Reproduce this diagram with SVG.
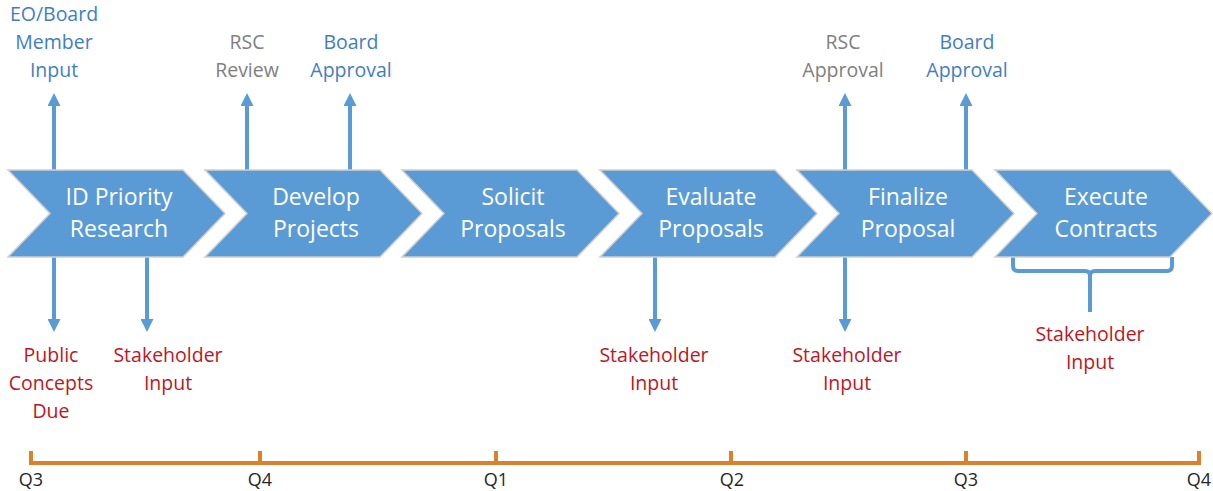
<svg xmlns="http://www.w3.org/2000/svg" width="1213" height="491" viewBox="0 0 1213 491">
<defs>
<style>
.chev{fill:#5B9BD5;stroke:#CFCFCF;stroke-width:1.5}
.ct{font-family:"Open Sans",sans-serif;font-size:23px;fill:#FFFFFF;text-anchor:middle}
.lb{font-family:"Open Sans",sans-serif;font-size:19.5px;text-anchor:middle}
.blue{fill:#3F7EC3}
.gray{fill:#808080}
.red{fill:#C0151F}
.arr{stroke:#5B9BD5;stroke-width:4;fill:none;marker-end:url(#ah)}
.brk{stroke:#5B9BD5;stroke-width:4;fill:none;stroke-linejoin:round}
.tl{stroke:#D9822B;stroke-width:4;fill:none}
.q{font-family:"Open Sans",sans-serif;font-size:18px;fill:#262626;text-anchor:middle}
</style>
<marker id="ah" markerUnits="userSpaceOnUse" markerWidth="13" markerHeight="13" refX="2" refY="6.5" orient="auto">
<path d="M0,0 L13,6.5 L0,13 Z" fill="#5B9BD5"/>
</marker>
<path id="chev" d="M0,0 H175 L217,43.5 L175,87 H0 L42,43.5 Z"/>
</defs>
<rect width="1213" height="491" fill="#FFFFFF"/>

<g id="connectors">
<line class="arr" x1="54" y1="170" x2="54" y2="104"/>
<line class="arr" x1="247" y1="170" x2="247" y2="104"/>
<line class="arr" x1="350" y1="170" x2="350" y2="104"/>
<line class="arr" x1="845" y1="170" x2="845" y2="104"/>
<line class="arr" x1="966" y1="170" x2="966" y2="104"/>
<line class="arr" x1="54" y1="257" x2="54" y2="321"/>
<line class="arr" x1="147" y1="257" x2="147" y2="321"/>
<line class="arr" x1="655" y1="257" x2="655" y2="321"/>
<line class="arr" x1="845" y1="257" x2="845" y2="321"/>
<path class="brk" d="M1013,257 V266 Q1013,271 1018,271 H1085 Q1090,271 1090,276 V312 M1090,276 Q1090,271 1095,271 H1167 Q1172,271 1172,266 V257"/>
</g>

<g id="node-id-priority">
<use href="#chev" class="chev" x="8" y="170"/>
<text class="ct" x="119" y="205">ID Priority</text>
<text class="ct" x="119" y="237">Research</text>
</g>
<g id="node-develop">
<use href="#chev" class="chev" x="205" y="170"/>
<text class="ct" x="316" y="205">Develop</text>
<text class="ct" x="316" y="237">Projects</text>
</g>
<g id="node-solicit">
<use href="#chev" class="chev" x="402" y="170"/>
<text class="ct" x="513" y="205">Solicit</text>
<text class="ct" x="513" y="237">Proposals</text>
</g>
<g id="node-evaluate">
<use href="#chev" class="chev" x="600" y="170"/>
<text class="ct" x="711" y="205">Evaluate</text>
<text class="ct" x="711" y="237">Proposals</text>
</g>
<g id="node-finalize">
<use href="#chev" class="chev" x="797" y="170"/>
<text class="ct" x="908" y="205">Finalize</text>
<text class="ct" x="908" y="237">Proposal</text>
</g>
<g id="node-execute">
<use href="#chev" class="chev" x="995" y="170"/>
<text class="ct" x="1106" y="205">Execute</text>
<text class="ct" x="1106" y="237">Contracts</text>
</g>

<g id="label-eo-board">
<text class="lb blue" x="54" y="21">EO/Board</text>
<text class="lb blue" x="54" y="49">Member</text>
<text class="lb blue" x="54" y="77">Input</text>
</g>
<g id="label-rsc-review">
<text class="lb gray" x="247" y="49">RSC</text>
<text class="lb gray" x="247" y="77">Review</text>
</g>
<g id="label-board-approval-1">
<text class="lb blue" x="351" y="49">Board</text>
<text class="lb blue" x="351" y="77">Approval</text>
</g>
<g id="label-rsc-approval">
<text class="lb gray" x="843" y="49">RSC</text>
<text class="lb gray" x="843" y="77">Approval</text>
</g>
<g id="label-board-approval-2">
<text class="lb blue" x="967" y="49">Board</text>
<text class="lb blue" x="967" y="77">Approval</text>
</g>

<g id="label-public-concepts">
<text class="lb red" x="51" y="362">Public</text>
<text class="lb red" x="51" y="390">Concepts</text>
<text class="lb red" x="51" y="418">Due</text>
</g>
<g id="label-stakeholder-1">
<text class="lb red" x="168" y="362">Stakeholder</text>
<text class="lb red" x="168" y="390">Input</text>
</g>
<g id="label-stakeholder-2">
<text class="lb red" x="654" y="362">Stakeholder</text>
<text class="lb red" x="654" y="390">Input</text>
</g>
<g id="label-stakeholder-3">
<text class="lb red" x="847" y="362">Stakeholder</text>
<text class="lb red" x="847" y="390">Input</text>
</g>
<g id="label-stakeholder-4">
<text class="lb red" x="1090" y="341">Stakeholder</text>
<text class="lb red" x="1090" y="369">Input</text>
</g>

<g id="timeline">
<path class="tl" d="M31,451 V463 H1199 V451 M260,451 V463 M496,451 V463 M731,451 V463 M966,451 V463"/>
<text class="q" x="31" y="486">Q3</text>
<text class="q" x="260" y="486">Q4</text>
<text class="q" x="496" y="486">Q1</text>
<text class="q" x="732" y="486">Q2</text>
<text class="q" x="966" y="486">Q3</text>
<text class="q" x="1199" y="486">Q4</text>
</g>
</svg>
